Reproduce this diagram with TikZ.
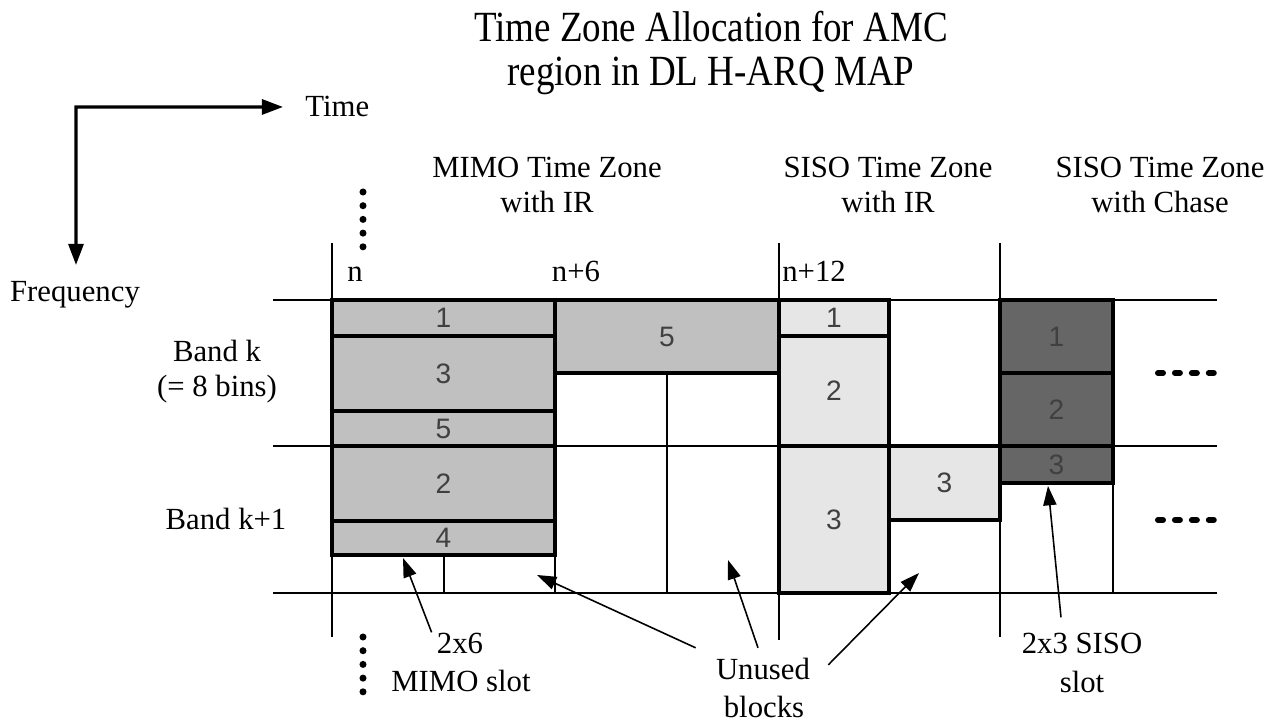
\documentclass[tikz,border=0pt]{standalone}
\usepackage{fontspec}
\setmainfont{Liberation Serif}
\newfontfamily\slotfont{Liberation Sans}
\newfontfamily\titlefont[FakeStretch=0.86]{Liberation Serif}
\usetikzlibrary{arrows.meta,positioning}

\definecolor{mimofill}{HTML}{C0C0C0}
\definecolor{irfill}{HTML}{E6E6E6}
\definecolor{chasefill}{HTML}{666666}
\definecolor{numgray}{HTML}{404040}

\begin{document}
\begin{tikzpicture}[x=0.02cm,y=-0.02cm,>={Triangle[length=11pt,width=7.5pt]},
  gridline/.style={line width=0.85pt},
  slotbox/.style={line width=2.8pt},
  slotnum/.style={font=\slotfont\fontsize{16}{18}\selectfont,text=numgray},
  lbl/.style={font=\fontsize{17.5}{20.4}\selectfont,align=center,inner sep=0pt},
  callout/.style={line width=0.9pt,->}]
\useasboundingbox (0,0) rectangle (1276,722);
% title and axes
\node[lbl,font=\titlefont\fontsize{24.5}{24.5}\selectfont] (title) at (711,53) {Time Zone Allocation for AMC\\region in DL H-ARQ MAP};
\coordinate (origin) at (76,107);
\node[lbl,anchor=base west] (timelbl) at (305,117) {Time};
\node[lbl,anchor=base] (freqlbl) at (75,302) {Frequency};
\draw[line width=1.8pt,{Triangle[length=12pt,width=8.5pt]}-{Triangle[length=12pt,width=8.5pt]},shorten <=9.4pt,shorten >=12.5pt]
  (origin |- freqlbl.north) -- (origin) -- (timelbl.west);

% zones and slot indices
\node[lbl] (mimozone) at (547,185) {MIMO Time Zone\\with IR};
\node[lbl] (irzone) at (888,185) {SISO Time Zone\\with IR};
\node[lbl] (chasezone) at (1160,185) {SISO Time Zone\\with Chase};
\node[lbl,anchor=base] (tn) at (355,282) {n};
\node[lbl,anchor=base] (tn6) at (576,282) {n+6};
\node[lbl,anchor=base west] (tn12) at (782,282) {n+12};
\node[lbl,anchor=base] (bandk) at (217,362) {Band k};
\node[lbl,anchor=base] (bandbins) at (217,397) {(= 8 bins)};
\node[lbl,anchor=base] (bandk1) at (226,530) {Band k+1};

% grid
\draw[gridline] (273,300) -- (1217,300) (273,446) -- (1217,446) (273,593) -- (1217,593);
\draw[gridline] (332,243) -- (332,637) (779,243) -- (779,640) (1000,243) -- (1000,637);
\draw[gridline] (444,555) -- (444,593) (555,555) -- (555,593) (667,373) -- (667,593) (1113,483) -- (1113,593);

% MIMO zone
\draw[slotbox,fill=mimofill] (332,300) rectangle node[slotnum] (mm1) {1} (555,336);
\draw[slotbox,fill=mimofill] (332,336) rectangle node[slotnum] (mm3) {3} (555,411);
\draw[slotbox,fill=mimofill] (332,411) rectangle node[slotnum] (mm5) {5} (555,446);
\draw[slotbox,fill=mimofill] (332,446) rectangle node[slotnum] (mm2) {2} (555,521);
\draw[slotbox,fill=mimofill] (332,521) rectangle node[slotnum] (mm4) {4} (555,555);
\draw[slotbox,fill=mimofill] (555,300) rectangle node[slotnum] (mm5b) {5} (779,373);
% SISO zone, IR
\draw[slotbox,fill=irfill] (779,300) rectangle node[slotnum] (ir1) {1} (889,336);
\draw[slotbox,fill=irfill] (779,336) rectangle node[slotnum] (ir2) {2} (889,446);
\draw[slotbox,fill=irfill] (779,446) rectangle node[slotnum] (ir3) {3} (889,593);
\draw[slotbox,fill=irfill] (889,446) rectangle node[slotnum] (ir3b) {3} (1000,520);
% SISO zone, Chase
\draw[slotbox,fill=chasefill] (1000,300) rectangle node[slotnum] (ch1) {1} (1113,373);
\draw[slotbox,fill=chasefill] (1000,373) rectangle node[slotnum] (ch2) {2} (1113,446);
\draw[slotbox,fill=chasefill] (1000,446) rectangle node[slotnum] (ch3) {3} (1113,483);

% continuation marks
\draw[line width=4pt,line cap=round,dash pattern=on 0pt off 7.8pt] (363,192) -- (363,248);
\draw[line width=4pt,line cap=round,dash pattern=on 0pt off 7.8pt] (363,637) -- (363,693);
\draw[line width=3.4pt,line cap=round,dash pattern=on 2.84pt off 6.8pt] (1158,373) -- (1214,373);
\draw[line width=3.4pt,line cap=round,dash pattern=on 2.84pt off 6.8pt] (1158,520) -- (1214,520);

% callouts
\node[lbl] (mimo26) at (460,643) {2x6};
\node[lbl] (mimoslot) at (461,681) {MIMO slot};
\node[lbl] (unused) at (763,669) {Unused};
\node[lbl] (blocks) at (764,707) {blocks};
\node[lbl] (siso23) at (1082,643) {2x3 SISO};
\node[lbl] (sisoslot) at (1082,682) {slot};
\coordinate (mimotip) at (403,558);
\coordinate (ublk1) at (537,575);
\coordinate (ublk2) at (728,560);
\coordinate (ublk3) at (919,573);
\coordinate (sisotip) at (1048,486);
\draw[callout] ([shift={(-5,0)}]mimo26.north west) -- (mimotip);
\draw[callout] ([shift={(-20,-10)}]unused.north west) -- (ublk1);
\draw[callout] ([shift={(-5,-10)}]unused.north) -- (ublk2);
\draw[callout] ([shift={(18,7)}]unused.north east) -- (ublk3);
\draw[callout] ([shift={(-21,-15)}]siso23.north) -- (sisotip);
\end{tikzpicture}
\end{document}
